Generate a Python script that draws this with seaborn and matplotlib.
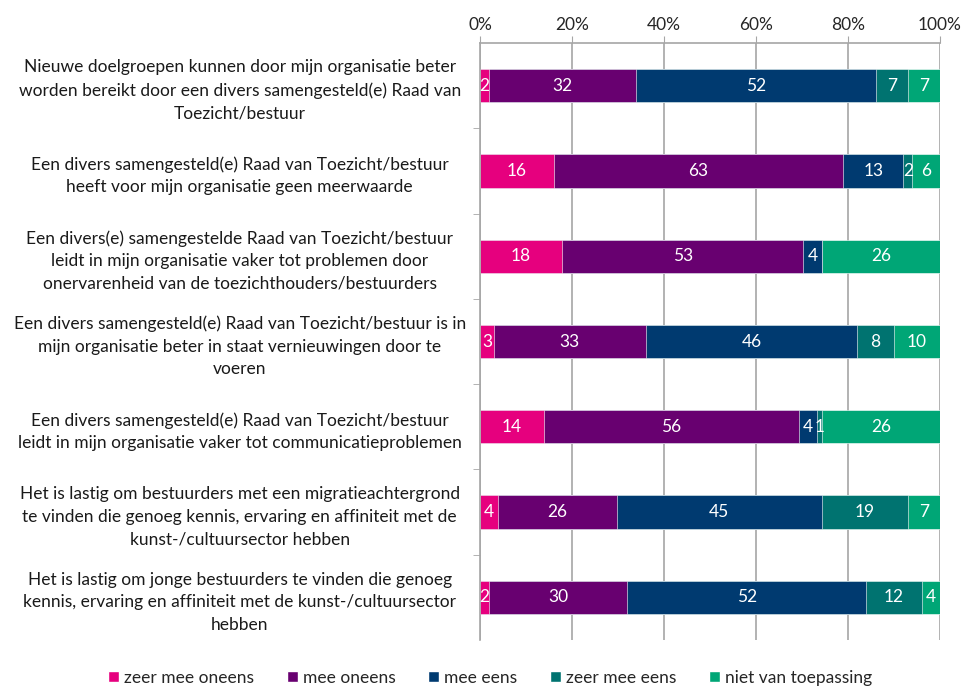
import numpy as np
import pandas as pd
import matplotlib
matplotlib.use('Agg')
import matplotlib.pyplot as plt
import seaborn as sns
from matplotlib.patches import Patch

sns.set_style('white')
plt.rcParams['font.family'] = ['Lato', 'DejaVu Sans']

statements = [
    'Nieuwe doelgroepen kunnen door mijn organisatie beter\nworden bereikt door een divers samengesteld(e) Raad van\nToezicht/bestuur',
    'Een divers samengesteld(e) Raad van Toezicht/bestuur\nheeft voor mijn organisatie geen meerwaarde',
    'Een divers(e) samengestelde Raad van Toezicht/bestuur\nleidt in mijn organisatie vaker tot problemen door\nonervarenheid van de toezichthouders/bestuurders',
    'Een divers samengesteld(e) Raad van Toezicht/bestuur is in\nmijn organisatie beter in staat vernieuwingen door te\nvoeren',
    'Een divers samengesteld(e) Raad van Toezicht/bestuur\nleidt in mijn organisatie vaker tot communicatieproblemen',
    'Het is lastig om bestuurders met een migratieachtergrond\nte vinden die genoeg kennis, ervaring en affiniteit met de\nkunst-/cultuursector hebben',
    'Het is lastig om jonge bestuurders te vinden die genoeg\nkennis, ervaring en affiniteit met de kunst-/cultuursector\nhebben',
]
answers = ['zeer mee oneens', 'mee oneens', 'mee eens', 'zeer mee eens', 'niet van toepassing']
zeer_mee_oneens = [2, 16, 18, 3, 14, 4, 2]
mee_oneens = [32, 63, 53, 33, 56, 26, 30]
mee_eens = [52, 13, 4, 46, 4, 45, 52]
zeer_mee_eens = [7, 2, 0, 8, 1, 19, 12]
niet_van_toepassing = [7, 6, 26, 10, 26, 7, 4]
colors = ['#E6007E', '#680070', '#003A70', '#007370', '#00A676']

vals = np.array([zeer_mee_oneens, mee_oneens, mee_eens, zeer_mee_eens, niet_van_toepassing], dtype=float)
share = vals / vals.sum(axis=0) * 100
cum = share.cumsum(axis=0)

fig = plt.figure(figsize=(9.65, 6.88), dpi=100)
ax = fig.add_axes([480 / 965, 1 - 640 / 688, 460 / 965, (640 - 43) / 688])

# stacked bars: draw cumulative ends, largest first
for i in range(len(answers) - 1, -1, -1):
    df = pd.DataFrame({'statement': statements, 'end': cum[i]})
    sns.barplot(data=df, x='end', y='statement', orient='h', color=colors[i],
                saturation=1, width=0.39, edgecolor='white', linewidth=0.4, ax=ax)

for i in range(len(answers)):
    starts = cum[i] - share[i]
    for j in range(len(statements)):
        if vals[i, j] > 0:
            ax.text(starts[j] + share[i, j] / 2, j, f'{int(vals[i, j])}',
                    ha='center', va='center', color='white', fontsize=12.5)

ax.set_xlim(0, 100)
ax.set_ylim(len(statements) - 0.5, -0.5)
ax.set_xticks(np.arange(0, 101, 20))
ax.set_xticklabels([f'{t}%' for t in range(0, 101, 20)], fontsize=12.5, color='#262626')
ax.xaxis.tick_top()
ax.tick_params(axis='x', length=5, color='#A6A6A6', pad=2, top=True, bottom=False)
ax.grid(axis='x', color='#A6A6A6', linewidth=1.2)
ax.set_axisbelow(True)
ax.set_xlabel('')
ax.set_ylabel('')

ax.set_yticks(range(len(statements)))
ax.set_yticklabels(statements, fontsize=12.5, ha='center', color='#1a1a1a', linespacing=1.5)
ax.tick_params(axis='y', which='major', length=0, pad=173)
ax.set_yticks(np.arange(0.5, len(statements) - 0.5), minor=True)
ax.tick_params(axis='y', which='minor', length=5, color='#A6A6A6', left=True)

for s in ['right', 'bottom']:
    ax.spines[s].set_visible(False)
for s in ['top', 'left']:
    ax.spines[s].set_color('#A6A6A6')
    ax.spines[s].set_linewidth(1.2)

handles = [Patch(facecolor=c, label=a) for c, a in zip(colors, answers)]
fig.legend(handles=handles, loc='center', bbox_to_anchor=(0.508, 0.015), ncol=5,
           frameon=False, fontsize=12.5, handlelength=0.6, handleheight=0.6,
           handletextpad=0.3, columnspacing=1.9)

fig.savefig('out.png', dpi=100)
plt.close()
